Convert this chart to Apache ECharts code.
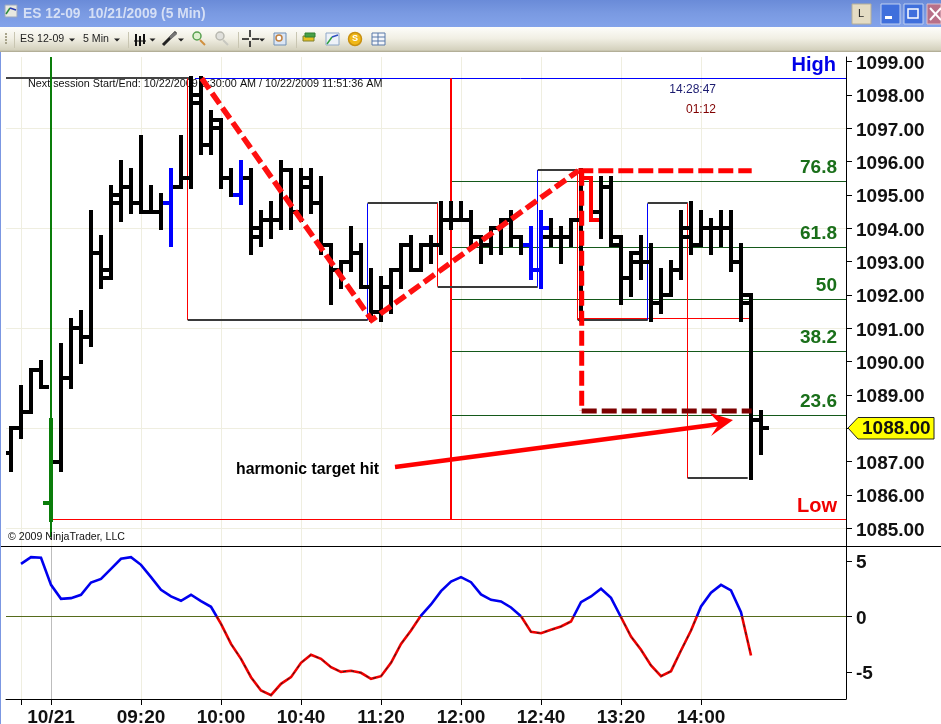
<!DOCTYPE html>
<html><head><meta charset="utf-8">
<style>html,body{margin:0;padding:0;background:#fff}#c{width:941px;height:724px}</style>
<script src="https://cdn.jsdelivr.net/npm/echarts@6/dist/echarts.min.js"></script>
</head><body><div id="c"></div>
<script>
// ---- price bars, one row per bar index 0..75 ----
const opens = [1087.25,1088,1088.5,1089.75,1085.75,1087,1089.5,1091,1090.75,1093.25,1092.5,1094.75,1095.25,1094.75,1094.5,1094.5,1094.75,1095.25,1095.5,1098,1096.5,1097,1095.5,1095,1095.5,1093.75,1094.25,1094.25,1095.75,1094.5,1095.25,1094.75,1093.5,1092.75,1093,1093.25,1092.25,1091.5,1092.25,1092.75,1093.5,1092.75,1093.5,1093.5,1094.25,1094.25,1094.25,1093.75,1093.5,1094,1094.25,1093.75,1093.5,1092.75,1093.75,1093.75,1093.75,1094.25,1095.5,1094.5,1095.25,1093.5,1092.5,1093,1093,1091.75,1092,1092.75,1093.75,1093.5,1094,1094,1094,1093,1091.75,1088.25];
const highs = [1088,1089.25,1089.75,1090,1088.25,1090.5,1091.25,1091.5,1094.5,1093.75,1095.25,1096,1095.75,1096.75,1095.25,1095,1095.75,1096.75,1098.5,1098.5,1097.5,1097.25,1095.75,1096,1095.75,1094.5,1094.75,1096,1095.75,1095.75,1095.75,1095.5,1093.5,1093,1094,1093.5,1092.75,1092.5,1092.75,1093.5,1093.75,1093.5,1093.75,1094.75,1094.75,1094.75,1094.5,1093.75,1094,1094.25,1094.5,1093.75,1094,1094.5,1094.25,1094,1094.25,1095.75,1095.5,1095.5,1095.5,1093.75,1093.25,1093.75,1093.5,1092.75,1093,1094.5,1094.75,1094.5,1094.25,1094.5,1094.5,1093.5,1092,1088.5];
const lows = [1086.75,1087.75,1088.5,1089.25,1085.25,1086.75,1089.25,1090,1090.5,1092.25,1092.5,1094.25,1094.5,1094.5,1094.5,1094,1093.5,1095.25,1095.25,1096.25,1096.25,1095.25,1095,1094.75,1093.25,1093.5,1093.75,1094,1094,1094.25,1094.5,1093.25,1091.75,1092.25,1092.75,1092.25,1091.25,1091.25,1091.5,1092.25,1092.75,1092.75,1093,1093.25,1094,1094.25,1093.5,1093,1093.25,1093.25,1093.5,1093.25,1092.5,1092.25,1093.5,1093,1093.5,1091.25,1094.25,1093.75,1093.5,1091.75,1092,1092.5,1091.25,1091.5,1092,1092.5,1093.25,1093.5,1093.25,1093.5,1092.75,1091.25,1086.5,1087.25];
const closes = [1088,1088.5,1089.75,1089.25,1087,1089.5,1091,1090.75,1093.25,1092.75,1095,1095.25,1094.75,1094.5,1094.5,1094.75,1095.25,1095.5,1097.75,1096.5,1097.25,1095.5,1095,1095.5,1094,1094.25,1094.25,1095.75,1094.5,1095.5,1094.75,1093.5,1092.75,1093,1093.25,1092.25,1091.5,1092.25,1092.75,1093.5,1092.75,1093.5,1093.5,1094.25,1094.25,1094.25,1093.75,1093.5,1094,1094.25,1093.75,1093.5,1092.75,1094,1093.75,1093.75,1094.25,1095.5,1094.25,1095.25,1093.75,1092.5,1093.25,1093,1091.75,1092,1092.75,1094,1093.5,1094,1094,1094,1093,1092,1088.25,1088];
const blueBars = [16,23,52,53];
const redBars = [58];
const greenBars = [4];

// ---- oscillator, bar index 1..74 ----
const oscValues = [4.73,5.33,5.27,2.84,1.59,1.65,1.95,3.05,3.38,4.28,5.18,5.33,4.64,3.53,2.40,1.80,1.41,1.95,1.38,0.87,-0.66,-2.46,-3.80,-5.45,-6.65,-7.07,-6.05,-5.45,-4.16,-3.44,-3.80,-4.55,-4.97,-4.88,-5.06,-5.60,-5.36,-4.16,-2.46,-1.26,0.09,1.08,2.28,3.14,3.53,3.08,1.98,1.50,1.35,0.81,0.03,-1.38,-1.50,-1.20,-0.90,-0.45,1.29,1.80,2.49,1.68,-0.06,-1.80,-2.99,-4.40,-5.36,-4.91,-3.05,-1.26,0.90,2.13,2.84,2.34,0.39,-3.50];

// ---- axes ----
const xTickIndex = [1,4,13,21,29,37,45,53,61,69];
const xTickLabels = ['','10/21','09:20','10:00','10:40','11:20','12:00','12:40','13:20','14:00'];
const priceTicks = [1085,1086,1087,1088,1089,1090,1091,1092,1093,1094,1095,1096,1097,1098,1099];
const priceGrid = [1085,1088,1091,1094,1097];
const oscTicks = [-5,0,5];

// ---- annotations ----
const fibLevels = [1095.4,1093.43,1091.87,1090.31,1088.39];
const zigX = [17.67,17.67,35.67,35.67,42.67,42.67,52.67,52.67,56.67,56.67,63.67,63.67,67.67,67.67,73.67];
const zigY = [1098.5,1091.25,1091.25,1094.75,1094.75,1092.25,1092.25,1095.75,1095.75,1091.25,1091.25,1094.75,1094.75,1086.5,1086.5];
const zigStyle = ['r','k','b','k','r','k','b','k','r','k','b','k','r','k'];
const dashDiagonal = [[19.07,1098.5],[36.07,1091.25],[56.73,1095.73]];
const dashTop = [[56.73,1095.73],[74.07,1095.73]];
const dashSide = [[57.07,1095.73],[57.07,1088.52]];
const dashBottom = [[57.07,1088.52],[74.07,1088.52]];
const arrowShaft = [[38.4,1086.84],[70.9,1088.13]];
const arrowHead = [[69.83,1088.47],[72.2,1088.25],[70,1087.77],[70.83,1088.15]];

const XMIN=-0.5, XMAX=83.5;
const PANES=[{top:57,h:489,min:1084.469,max:1099.141},{top:546,h:153,min:-7.41,max:6.33}];
const line=(pts,color,width,z,extra={})=>({
  type:'line',data:pts,showSymbol:false,silent:true,animation:false,z,
  lineStyle:{color,width,cap:'butt',join:'miter',type:extra.dash||'solid'},
  xAxisIndex:extra.grid||0,yAxisIndex:extra.grid||0});
// straight rule whose data value is nudged so it lands on a whole pixel row/column
const seg=(a,b,color,width,z,grid=0)=>{
  const P=PANES[grid];
  const snap=v=>width%2?Math.floor(v)+.5:Math.round(v);
  const nudgeX=k=>(snap(6+(k+.5)*10)-6)/10-.5;
  const nudgeY=p=>{const y=P.top+(P.max-p)*P.h/(P.max-P.min);return P.max-(snap(y)-P.top)*(P.max-P.min)/P.h;};
  const pts=a[0]===b[0]?[[nudgeX(a[0]),a[1]],[nudgeX(b[0]),b[1]]]:[[a[0],nudgeY(a[1])],[b[0],nudgeY(b[1])]];
  return line(pts,color,width,z,{grid});
};

const series=[];
priceGrid.forEach(p=>series.push(seg([XMIN,p],[XMAX,p],'#efeee0',1,1)));
fibLevels.forEach(p=>series.push(seg([44,p],[XMAX,p],'#14591a',1,2)));
series.push(seg([XMIN,1098.5],[18,1098.5],'#444',2,2));
series.push(seg([18.4,1098.5],[XMAX,1098.5],'#0000ff',1,2));
series.push(seg([4.1,1085.25],[XMAX,1085.25],'#ff0000',1,2));
series.push(seg([56.67,1091.3],[74.07,1091.3],'#ff0000',1,2));
series.push(seg([44,1098.5],[44,1085.25],'#ff0000',2,4));
series.push(seg([4,1099.14],[4,1084.74],'#0a7d0a',2,3));
for(let i=0;i<zigStyle.length;i++){
  const s=zigStyle[i];
  series.push(seg([zigX[i],zigY[i]],[zigX[i+1],zigY[i+1]],s==='r'?'#ff0000':s==='b'?'#0000ff':'#3a3a3a',s==='k'?2:1,4));
}
// HLOC bars
series.push({
  type:'custom',z:5,silent:true,animation:false,xAxisIndex:0,yAxisIndex:0,
  data:opens.map((o,i)=>[i,o,highs[i],lows[i],closes[i]]),
  encode:{x:0,y:[1,2,3,4]},
  renderItem(params,api){
    const i=api.value(0);
    const h=api.coord([i,api.value(2)]),l=api.coord([i,api.value(3)]),
          o=api.coord([i,api.value(1)]),c=api.coord([i,api.value(4)]);
    const col=blueBars.includes(i)?'#0000ff':redBars.includes(i)?'#ff0000':greenBars.includes(i)?'#0a7d0a':'#000';
    const st={stroke:col,lineWidth:4,fill:'none'};
    const x=Math.round(h[0]);
    const left=Math.max(x-8,api.coord([XMIN,0])[0]);
    return {type:'group',children:[
      {type:'polyline',shape:{points:[[x,Math.round(h[1])-2],[x,Math.round(l[1])+2]]},style:st},
      {type:'polyline',shape:{points:[[left,Math.round(o[1])],[x,Math.round(o[1])]]},style:st},
      {type:'polyline',shape:{points:[[x,Math.round(c[1])],[x+8,Math.round(c[1])]]},style:st}
    ]};
  }
});
series.push(line(dashDiagonal,'#ff1010',5.5,7,{dash:[13,5]}));
series.push(line(dashTop,'#ff0000',5,7,{dash:[15,5]}));
series.push(line(dashSide,'#ff0000',5,7,{dash:[15,5]}));
series.push(line(dashBottom,'#7c0000',5,7,{dash:[15,5]}));
series.push(line(arrowShaft,'#ff0000',4.5,8));
series.push({
  type:'custom',z:8,silent:true,animation:false,xAxisIndex:0,yAxisIndex:0,
  data:[0],
  renderItem(params,api){
    return {type:'polygon',shape:{points:arrowHead.map(p=>api.coord(p))},style:{fill:'#ff0000'}};
  }
});
// lower pane: split the oscillator where it changes sign
const oscPos=[],oscNeg=[];
oscValues.forEach((v,i)=>{
  const x=i+1,next=oscValues[i+1];
  (v>=0?oscPos:oscNeg).push([x,v]);
  if(next!==undefined && (v>=0)!==(next>=0)){
    const cx=x+v/(v-next);
    (v>=0?oscPos:oscNeg).push([cx,0],[cx,null]);
    (v>=0?oscNeg:oscPos).push([cx,0]);
  }
});
series.push(seg([4,-7.41],[4,6.33],'#bdbdbd',1,1,1));
series.push(seg([XMIN,0],[XMAX,0],'#566b1c',1,2,1));
series.push(line(oscPos,'#0000ee',2.6,3,{grid:1}));
series.push(line(oscNeg,'#f00000',2.6,3,{grid:1}));
series.push(line(oscNeg,'#222',1,4,{grid:1,dash:[3,5]}));

// window chrome
const g=[];
const T=(text,x,y,font,fill,align,z)=>g.push({type:'text',x,y,z:z||20,silent:true,style:{text,font,fill,align:align||'left',verticalAlign:'middle'}});
const R=(x,y,w,h,fill,stroke)=>g.push({type:'rect',z:20,silent:true,shape:{x,y,width:w,height:h},style:{fill,stroke:stroke||null,lineWidth:1}});
const C=(x,y,r,fill,stroke)=>g.push({type:'circle',z:20,silent:true,shape:{cx:x,cy:y,r},style:{fill,stroke:stroke||null,lineWidth:1.5}});
const L=(x1,y1,x2,y2,stroke,w)=>g.push({type:'line',z:20,silent:true,shape:{x1,y1,x2,y2},style:{stroke,lineWidth:w||1}});
const V=(stops)=>({type:'linear',x:0,y:0,x2:0,y2:1,colorStops:stops});
R(0,0,941,27,V([{offset:0,color:'#6a8bd8'},{offset:.5,color:'#7a9ae2'},{offset:1,color:'#83a3ea'}]));
R(0,27,941,25,V([{offset:0,color:'#fdfdfa'},{offset:.45,color:'#f1efe4'},{offset:.92,color:'#d4d1bd'},{offset:1,color:'#a8a48c'}]));
R(0,52,1,672,'#7b97e2');
T('ES 12-09  10/21/2009 (5 Min)',23,14,'bold 13.8px "Liberation Sans"','#d5dff5');
R(5,5,12,12,'#e8e8e0','#9aa6c0');L(6,14,10,8,'#2a8a3a',1.5);L(10,8,16,10,'#2a3ab0',1.5);
// window buttons
R(852,4,19,20,'#e4dcc4','#b5ae96');T('L',861,14,'11px "Liberation Sans"','#222','center');
R(881,4,19,20,'#3f6fdc','#c0d0f0');R(885,16,7,3,'#fff');
R(904,4,19,20,'#3f6fdc','#c0d0f0');g.push({type:'rect',z:20,silent:true,shape:{x:908,y:9,width:10,height:9},style:{fill:null,stroke:'#fff',lineWidth:1.5}});
R(927,4,14,20,'#b87088','#e0c0c8');L(930,8,941,20,'#fff',2);L(941,8,930,20,'#fff',2);
// toolbar
for(const y of [33,36,39,42])R(5,y,2,2,'#a8a48c');
L(14.5,32,14.5,48,'#c9c6b2');L(128.5,32,128.5,48,'#c9c6b2');L(238.5,32,238.5,48,'#c9c6b2');L(296.5,32,296.5,48,'#c9c6b2');
T('ES 12-09',20,39,'10.6px "Liberation Sans"','#222');
T('5 Min',83,39,'10.6px "Liberation Sans"','#222');
const tri=(x,y)=>g.push({type:'polygon',z:20,silent:true,shape:{points:[[x-3,y-1.5],[x+3,y-1.5],[x,y+1.5]]},style:{fill:'#222'}});
[72,117,152.5,181,262].forEach(x=>tri(x,40));
L(136,34,136,46,'#111',2);L(140,36,140,46,'#111',2);L(144,34,144,44,'#111',2);L(134,41,146,41,'#111',1);
L(163,45,176,32,'#222',3);L(170,38,176,33,'#777',3);
C(197,36,4,'#dff0d0','#58a050');L(200,40,205,45,'#d09040',2);
C(220,36,4,'#e0e0dc','#b8b8b0');L(223,40,228,45,'#c8c8c0',2);
L(242,39,249,39,'#111',1.5);L(252,39,259,39,'#111',1.5);L(250,30,250,37,'#111',1.5);L(250,41,250,47,'#111',1.5);
R(274,33,12,12,'#dce6f4','#6f8fb5');C(279,38,3,'#fff','#c08040');
R(303,36,11,5,'#e6c020','#808030');R(305,33,10,4,'#48a048','#308030');
R(326,33,13,12,'#eef2f8','#8fa8c8');L(327,44,332,37,'#30a040',1.5);L(332,37,338,35,'#3050c0',1.5);
C(355,39,6.5,'#f0b818','#c89010');T('S',355,39,'bold 9px "Liberation Sans"','#fff','center');
R(372,33,13,12,'#f4f6fa','#5878a8');L(372,37,385,37,'#5878a8');L(372,41,385,41,'#5878a8');L(378,33,378,45,'#5878a8');
// separator between panes
L(1,546.5,941,546.5,'#000',1);
// labels
const lblFont='bold 19px "Liberation Sans"';
T('High',836,65,'bold 20px "Liberation Sans"','#0000e8','right');
T('76.8',837,168,lblFont,'#1a6f1a','right');
T('61.8',837,234,lblFont,'#1a6f1a','right');
T('50',837,286,lblFont,'#1a6f1a','right');
T('38.2',837,338,lblFont,'#1a6f1a','right');
T('23.6',837,402,lblFont,'#1a6f1a','right');
T('Low',837,506,'bold 20px "Liberation Sans"','#f00000','right');
T('14:28:47',716,90,'12px "Liberation Sans"','#1c1c70','right');
T('01:12',716,110,'12px "Liberation Sans"','#800000','right');
T('Next session Start/End: 10/22/2009 9:30:00 AM / 10/22/2009 11:51:36 AM',28,84,'10.8px "Liberation Sans"','#111','left',3);
T('© 2009 NinjaTrader, LLC',8,537,'10.6px "Liberation Sans"','#111');
T('harmonic target hit',236,470,'bold 15.8px "Liberation Sans"','#000');
g.push({type:'polygon',z:20,silent:true,shape:{points:[[848,428],[858,417.5],[934,417.5],[934,439],[858,439]]},style:{fill:'#ffff00',stroke:'#222',lineWidth:1}});
T('1088.00',862,429,'bold 19px "Liberation Sans"','#111');

const axFont={fontFamily:'"Liberation Sans"',fontWeight:'bold',fontSize:19,color:'#111'};
const yLabel={margin:10,align:'left',verticalAlign:'top',lineHeight:4};
const chart=echarts.init(document.getElementById('c'),null,{renderer:'canvas'});
chart.setOption({
  animation:false,backgroundColor:'#fff',
  grid:[{left:6,top:PANES[0].top,width:840,height:PANES[0].h,outerBoundsMode:'none'},{left:6,top:PANES[1].top,width:840,height:PANES[1].h,outerBoundsMode:'none'}],
  xAxis:[
   {type:'value',gridIndex:0,min:XMIN,max:XMAX,axisLine:{show:false,onZero:false},
    axisTick:{show:false,customValues:xTickIndex},axisLabel:{show:false,customValues:xTickIndex},
    splitLine:{show:true,lineStyle:{color:'#efeee0',width:1}}},
   {type:'value',gridIndex:1,min:XMIN,max:XMAX,position:'bottom',
    axisLine:{show:true,onZero:false,lineStyle:{color:'#000'}},
    axisTick:{show:true,length:6,customValues:xTickIndex,lineStyle:{color:'#000'}},
    axisLabel:Object.assign({customValues:xTickIndex,margin:9,
      formatter:v=>xTickLabels[xTickIndex.indexOf(v)]||''},axFont),
    splitLine:{show:true,lineStyle:{color:'#efeee0',width:1}}}
  ],
  yAxis:[
   {type:'value',gridIndex:0,position:'right',min:PANES[0].min,max:PANES[0].max,
    axisLine:{show:true,onZero:false,lineStyle:{color:'#000'}},
    axisTick:{show:true,length:6,customValues:priceTicks,lineStyle:{color:'#000'}},
    axisLabel:Object.assign({customValues:priceTicks,formatter:v=>v.toFixed(2)},axFont,yLabel),
    splitLine:{show:false}},
   {type:'value',gridIndex:1,position:'right',min:PANES[1].min,max:PANES[1].max,
    axisLine:{show:true,onZero:false,lineStyle:{color:'#000'}},
    axisTick:{show:true,length:6,customValues:oscTicks,lineStyle:{color:'#000'}},
    axisLabel:Object.assign({customValues:oscTicks,formatter:v=>String(v)},axFont,yLabel),
    splitLine:{show:false}}
  ],
  series,
  graphic:{elements:g}
});
</script></body></html>
